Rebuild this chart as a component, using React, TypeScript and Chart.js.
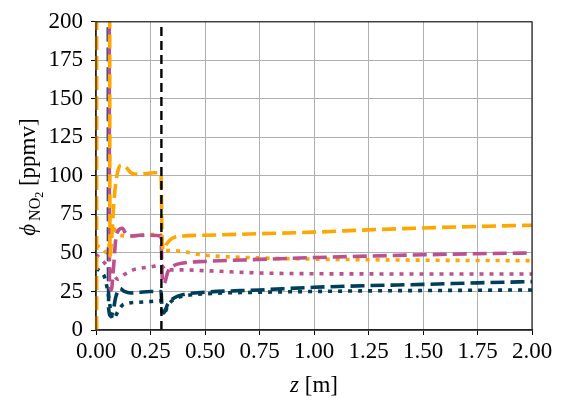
import React, { useEffect, useRef } from "react";
import { Chart, registerables } from "chart.js";

Chart.register(...registerables);

// ---- data (z in m, phi in ppmv) ----
const zOrangeDashed = [0.003, 0.004, 0.058, 0.064, 0.072, 0.085, 0.1, 0.115, 0.135, 0.16, 0.19, 0.23, 0.27, 0.298, 0.303, 0.31, 0.325, 0.35, 0.4, 0.5, 0.75, 1.0, 1.25, 1.5, 1.75, 2.0];
const phiOrangeDashed = [0, 2000, 2000, 48, 60, 88, 103, 107, 106, 102, 101, 101.5, 102, 102, 62, 52, 56, 59.5, 61, 61.5, 62.5, 63.5, 65, 66.2, 67.2, 68];

const zOrangeDotted = [0, 0.03, 0.05, 0.06, 0.07, 0.08, 0.1, 0.15, 0.2, 0.25, 0.298, 0.305, 0.35, 0.5, 0.75, 1.0, 1.25, 1.5, 1.75, 2.0];
const phiOrangeDotted = [55, 53, 50, 55, 64, 66, 62, 61, 61.5, 62, 62, 52, 51.5, 48.5, 46.8, 46, 45.6, 45.3, 45.1, 45];

const zMagentaDashed = [0.05, 0.054, 0.062, 0.07, 0.08, 0.09, 0.1, 0.12, 0.14, 0.17, 0.2, 0.25, 0.298, 0.304, 0.312, 0.33, 0.36, 0.4, 0.5, 0.75, 1.0, 1.25, 1.5, 1.75, 2.0];
const phiMagentaDashed = [2000, 2000, 30, 26, 40, 58, 64, 66, 62, 61, 61.5, 61.5, 61, 34, 30, 38, 42, 43.5, 44.5, 45.8, 47, 48, 48.8, 49.5, 50];

const zMagentaDotted = [0, 0.03, 0.06, 0.08, 0.1, 0.13, 0.17, 0.2, 0.25, 0.298, 0.32, 0.4, 0.5, 0.75, 1.0, 1.25, 1.5, 1.75, 2.0];
const phiMagentaDotted = [49, 45, 40, 36, 33, 36, 39, 40, 41, 42, 39, 39, 38.5, 37, 36.5, 36.4, 36.3, 36.3, 36.3];

const zNavyDashed = [0.046, 0.05, 0.058, 0.068, 0.078, 0.09, 0.1, 0.11, 0.13, 0.16, 0.2, 0.25, 0.298, 0.303, 0.31, 0.33, 0.36, 0.4, 0.5, 0.75, 1.0, 1.25, 1.5, 1.75, 2.0];
const phiNavyDashed = [2000, 2000, 14, 9, 12, 21, 25, 27, 25, 24, 24.5, 25, 25, 14, 11, 17, 21, 23, 24.5, 26, 27.7, 28.8, 29.6, 30.6, 31.4];

const zNavyDotted = [0, 0.02, 0.04, 0.06, 0.07, 0.08, 0.1, 0.12, 0.15, 0.2, 0.25, 0.298, 0.303, 0.31, 0.33, 0.36, 0.4, 0.5, 0.75, 1.0, 1.25, 1.5, 1.75, 2.0];
const phiNavyDotted = [40, 38, 34, 20, 10, 7, 12, 16, 17.5, 18, 18.5, 19, 12, 10, 16, 20, 22, 23.5, 24.5, 25, 25.4, 25.6, 25.8, 26];

const zSeparator = [0.3, 0.3];
const phiSeparator = [0, 200];

const xTicks = [0, 0.25, 0.5, 0.75, 1.0, 1.25, 1.5, 1.75, 2.0];
const yTicks = [0, 25, 50, 75, 100, 125, 150, 175, 200];

const ORANGE = "#ffa600";
const MAGENTA = "#bc5090";
const NAVY = "#003f5c";
const FONT = '"Liberation Serif", "Times New Roman", serif';
const FS = 23;

const pts = (xs: number[], ys: number[]) => xs.map((x, i) => ({ x, y: ys[i] }));

const frameAndTitles = {
  id: "frameAndTitles",
  afterDraw(chart: any) {
    const { ctx, chartArea } = chart;
    ctx.save();
    ctx.strokeStyle = "#222";
    ctx.lineWidth = 1.2;
    ctx.strokeRect(chartArea.left, chartArea.top, chartArea.right - chartArea.left, chartArea.bottom - chartArea.top);

    ctx.fillStyle = "#000";
    ctx.textBaseline = "alphabetic";
    ctx.textAlign = "left";
    const big = `${FS}px ${FONT}`;
    const ital = `italic ${FS}px ${FONT}`;
    // x title: z [m]
    ctx.font = ital;
    const w1 = ctx.measureText("z").width;
    ctx.font = big;
    const w2 = ctx.measureText(" [m]").width;
    const cx = (chartArea.left + chartArea.right) / 2;
    const x = cx - (w1 + w2) / 2;
    const y = 392;
    ctx.font = ital;
    ctx.fillText("z", x, y);
    ctx.font = big;
    ctx.fillText(" [m]", x + w1, y);

    // y title: phi_{NO2} [ppmv]
    const parts = [
      { t: "ϕ", f: ital, dy: 0 },
      { t: " ", f: `${FS * 0.5}px ${FONT}`, dy: 0 },
      { t: "NO", f: `${Math.round(FS * 0.68)}px ${FONT}`, dy: 5 },
      { t: "2", f: `${Math.round(FS * 0.5)}px ${FONT}`, dy: 8 },
      { t: " [ppmv]", f: big, dy: 0 },
    ];
    let total = 0;
    const widths = parts.map((p) => {
      ctx.font = p.f;
      const w = ctx.measureText(p.t).width;
      total += w;
      return w;
    });
    ctx.translate(35, 177);
    ctx.rotate(-Math.PI / 2);
    let px = -total / 2;
    parts.forEach((p, i) => {
      ctx.font = p.f;
      ctx.fillText(p.t, px, p.dy);
      px += widths[i];
    });
    ctx.restore();
  },
};

export default function App() {
  const ref = useRef<HTMLCanvasElement | null>(null);
  useEffect(() => {
    if (!ref.current) return;
    const line = (data: any, color: string, dash: number[], order: number) => ({
      data,
      borderColor: color,
      backgroundColor: color,
      borderWidth: 3.6,
      borderDash: dash,
      borderCapStyle: "butt" as const,
      pointRadius: 0,
      cubicInterpolationMode: "monotone" as const,
      fill: false,
      order,
      clip: { left: 4, top: 0, right: 0, bottom: 0 },
    });
    const DASH = [14, 6];
    const DOT = [4, 6];
    const chart = new Chart(ref.current, {
      type: "line",
      data: {
        datasets: [
          { ...line(pts(zSeparator, phiSeparator), "#000", [9, 5], 0), borderWidth: 2.4, cubicInterpolationMode: "default" as const },
          line(pts(zOrangeDashed, phiOrangeDashed), ORANGE, DASH, 1),
          line(pts(zMagentaDashed, phiMagentaDashed), MAGENTA, DASH, 2),
          line(pts(zNavyDashed, phiNavyDashed), NAVY, DASH, 3),
          line(pts(zOrangeDotted, phiOrangeDotted), ORANGE, DOT, 4),
          line(pts(zMagentaDotted, phiMagentaDotted), MAGENTA, DOT, 5),
          line(pts(zNavyDotted, phiNavyDotted), NAVY, DOT, 6),
        ],
      },
      options: {
        responsive: false,
        animation: false,
        layout: { padding: { top: 12, right: 38, left: 0, bottom: 0 } },
        plugins: { legend: { display: false }, tooltip: { enabled: false } },
        scales: {
          x: {
            type: "linear",
            min: 0,
            max: 2,
            afterBuildTicks: (s: any) => { s.ticks = xTicks.map((v) => ({ value: v })); },
            afterFit: (s: any) => { s.height = 71; },
            ticks: {
              color: "#000",
              font: { family: FONT, size: FS },
              padding: 3,
              maxRotation: 0,
              autoSkip: false,
              callback: (v: any) => Number(v).toFixed(2),
            },
            grid: { color: "#b0b0b0", lineWidth: 1, tickColor: "#000", tickLength: 5 },
            border: { display: true, color: "#222", width: 1.2 },
          },
          y: {
            type: "linear",
            min: 0,
            max: 200,
            afterBuildTicks: (s: any) => { s.ticks = yTicks.map((v) => ({ value: v })); },
            afterFit: (s: any) => { s.width = 96; },
            ticks: {
              color: "#000",
              font: { family: FONT, size: FS },
              padding: 8,
              autoSkip: false,
              callback: (v: any) => String(v),
            },
            grid: { color: "#b0b0b0", lineWidth: 1, tickColor: "#000", tickLength: 5 },
            border: { display: true, color: "#222", width: 1.2 },
          },
        },
      },
      plugins: [frameAndTitles],
    });
    return () => chart.destroy();
  }, []);
  return (
    <div style={{ position: "fixed", left: 0, top: 0, width: 570, height: 401, background: "#fff" }}>
      <canvas ref={ref} width={570} height={401} style={{ display: "block" }} />
    </div>
  );
}
